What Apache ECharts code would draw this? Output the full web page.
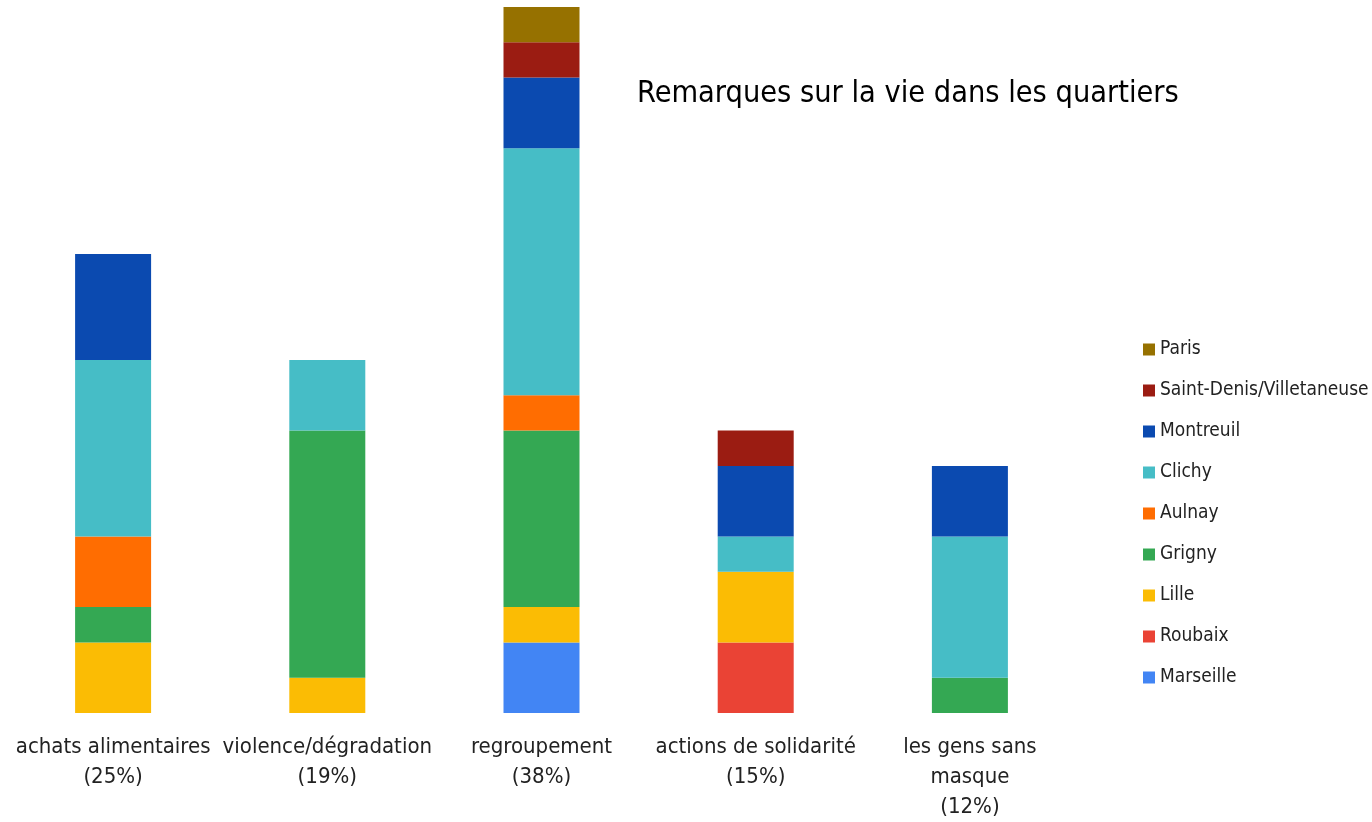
<!DOCTYPE html>
<html><head><meta charset="utf-8">
<script src="https://cdn.jsdelivr.net/npm/echarts@6/dist/echarts.min.js"></script>
<style>html,body{margin:0;padding:0;background:#fff}#c{width:1372px;height:822px}</style>
</head><body><div id="c"></div>
<script>
const categories = ['achats alimentaires\n(25%)', 'violence/dégradation\n(19%)', 'regroupement\n(38%)', 'actions de solidarité\n(15%)', 'les gens sans\nmasque\n(12%)'];
const seriesNames = ['Marseille', 'Roubaix', 'Lille', 'Grigny', 'Aulnay', 'Clichy', 'Montreuil', 'Saint-Denis/Villetaneuse', 'Paris'];
const marseille = [0, 0, 2, 0, 0];
const roubaix   = [0, 0, 0, 2, 0];
const lille     = [2, 1, 1, 2, 0];
const grigny    = [1, 7, 5, 0, 1];
const aulnay    = [2, 0, 1, 0, 0];
const clichy    = [5, 2, 7, 1, 4];
const montreuil = [3, 0, 2, 2, 2];
const saintDenis= [0, 0, 1, 1, 0];
const paris     = [0, 0, 1, 0, 0];
const colors = ['#4285F4', '#EA4335', '#FBBC04', '#34A853', '#FF6D01', '#46BDC6', '#0B4AB0', '#9B1C12', '#967100'];
const values = [marseille, roubaix, lille, grigny, aulnay, clichy, montreuil, saintDenis, paris];

const FONT = '"Liberation Sans Narrow", "DejaVu Sans Condensed", "Roboto", sans-serif';
const chart = echarts.init(document.getElementById('c'));
chart.setOption({
  animation: false,
  title: {
    text: 'Remarques sur la vie dans les quartiers',
    left: 632, top: 74,
    textStyle: {fontFamily: FONT, fontSize: 30.4, fontWeight: 'normal', color: '#000'}
  },
  legend: {
    orient: 'vertical', left: 1138, top: 335, itemWidth: 12, itemHeight: 12, itemGap: 22,
    icon: 'rect',
    data: seriesNames.slice().reverse(),
    textStyle: {fontFamily: FONT, fontSize: 19, color: '#222'}
  },
  grid: {left: 6, right: 295, top: 7, bottom: 98, containLabel: false},
  xAxis: {
    type: 'category', data: categories,
    axisLine: {show: false}, axisTick: {show: false},
    axisLabel: {interval: 0, margin: 19, fontFamily: FONT, fontSize: 22, lineHeight: 30, color: '#222'}
  },
  yAxis: {type: 'value', min: 0, max: 20, show: false, splitLine: {show: false}},
  series: seriesNames.map((n, i) => ({
    name: n, type: 'bar', stack: 'total', data: values[i], barWidth: 76,
    itemStyle: {color: colors[i]}
  }))
});
</script></body></html>
